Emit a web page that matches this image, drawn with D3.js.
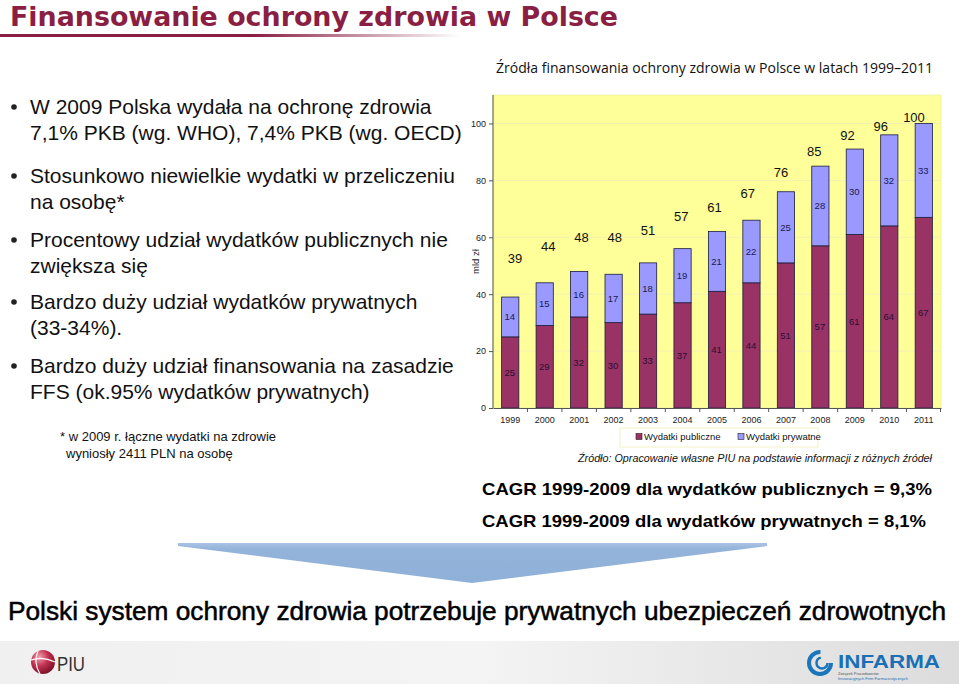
<!DOCTYPE html>
<html><head><meta charset="utf-8">
<script src="https://cdn.jsdelivr.net/npm/d3@7"></script>
<style>body{margin:0;background:#fff}svg{display:block}text{font-family:"Liberation Sans",Arial,sans-serif}</style>
</head><body><svg id="c" width="959" height="684"></svg>
<script>
// ---- data ----
const years = ["1999","2000","2001","2002","2003","2004","2005","2006","2007","2008","2009","2010","2011"];
const publicSpend  = [25,29,32,30,33,37,41,44,51,57,61,64,67];
const privateSpend = [14,15,16,17,18,19,21,22,25,28,30,32,33];
const totals       = [39,44,48,48,51,57,61,67,76,85,92,96,100];
const yTicks = [0,20,40,60,80,100];
const seriesNames = ["Wydatki publiczne","Wydatki prywatne"];
const bullets = [
  ["W 2009 Polska wydała na ochronę zdrowia","7,1% PKB (wg. WHO), 7,4% PKB (wg. OECD)"],
  ["Stosunkowo niewielkie wydatki w przeliczeniu","na osobę*"],
  ["Procentowy udział wydatków publicznych nie","zwiększa się"],
  ["Bardzo duży udział wydatków prywatnych","(33-34%)."],
  ["Bardzo duży udział finansowania na zasadzie","FFS (ok.95% wydatków prywatnych)"]
];
const footnote = ["* w 2009 r. łączne wydatki na zdrowie","wyniosły 2411 PLN na osobę"];
const cagr = ["CAGR 1999-2009 dla wydatków publicznych = 9,3%","CAGR 1999-2009 dla wydatków prywatnych = 8,1%"];

const svg = d3.select("#c");
const defs = svg.append("defs");
const C = {pub:"#993366", priv:"#9999ff", maroon:"#8a1f43"};

// ---- header ----
const lg = defs.append("linearGradient").attr("id","tl").attr("x1",0).attr("x2",1);
lg.append("stop").attr("offset",0).attr("stop-color",C.maroon);
lg.append("stop").attr("offset",0.55).attr("stop-color",C.maroon);
lg.append("stop").attr("offset",1).attr("stop-color",C.maroon).attr("stop-opacity",0);
svg.append("rect").attr("x",0).attr("y",34).attr("width",460).attr("height",3).attr("fill","url(#tl)");
svg.append("text").attr("x",10).attr("y",26).attr("fill",C.maroon)
  .style("font-family","'DejaVu Sans',Verdana,sans-serif").style("font-weight","bold").style("font-size","26px")
  .attr("textLength",608).attr("lengthAdjust","spacingAndGlyphs")
  .text("Finansowanie ochrony zdrowia w Polsce");
svg.append("text").attr("x",496).attr("y",73).attr("fill","#111")
  .style("font-family","'Open Sans',sans-serif").style("font-size","14px")
  .attr("textLength",437).attr("lengthAdjust","spacingAndGlyphs")
  .text("Źródła finansowania ochrony zdrowia w Polsce w latach 1999–2011");

// ---- bullets ----
const bl = [114,183,247,309,373];
bullets.forEach((b,i)=>{
  svg.append("circle").attr("cx",14).attr("cy",bl[i]-7).attr("r",2.8).attr("fill","#222");
  b.forEach((t,j)=>svg.append("text").attr("x",30).attr("y",bl[i]+j*25.5).attr("fill","#111")
    .style("font-size","21px").text(t));
});
footnote.forEach((t,j)=>svg.append("text").attr("x",j?66:60).attr("y",441+j*17).attr("fill","#111")
  .style("font-size","13px").text(t));

// ---- chart ----
const plot = {l:493,r:941,t:95,b:408};
svg.append("rect").attr("x",plot.l).attr("y",plot.t).attr("width",plot.r-plot.l).attr("height",plot.b-plot.t)
  .attr("fill","#ffff99").attr("stroke","#ececa0").attr("stroke-width",0.8);
const x = d3.scaleBand().domain(years).range([plot.l,plot.r]).paddingInner(0.5).paddingOuter(0.25);
const xCat = d3.scaleBand().domain(years).range([plot.l,plot.r]);
const y = d3.scaleLinear().domain([0,110]).range([plot.b,plot.t]);

// gridlines
svg.append("g").selectAll("line").data(yTicks.slice(1)).join("line")
  .attr("x1",plot.l).attr("x2",plot.r).attr("y1",d=>y(d)).attr("y2",d=>y(d))
  .attr("stroke","#f2f2b0").attr("stroke-width",1);

const rows = years.map((yr,i)=>({year:yr,pub:publicSpend[i],priv:privateSpend[i]}));
const stack = d3.stack().keys(["pub","priv"])(rows);
const g = svg.append("g");
stack.forEach(s=>{
  g.append("g").selectAll("rect").data(s).join("rect")
    .attr("x",d=>x(d.data.year)).attr("width",x.bandwidth())
    .attr("y",d=>y(d[1])).attr("height",d=>y(d[0])-y(d[1]))
    .attr("fill",C[s.key]).attr("stroke","#1c1c3c").attr("stroke-width",0.8);
  g.append("g").selectAll("text").data(s).join("text")
    .attr("x",d=>x(d.data.year)+x.bandwidth()/2-0.5).attr("y",d=>y((d[0]+d[1])/2))
    .attr("text-anchor","middle").attr("dy","0.35em")
    .attr("fill", s.key==="pub" ? "#2a1030" : "#1a1a50")
    .style("font-size","9.5px").text(d=>d.data[s.key]);
});

// total labels (placed on their own label scales, as in the original layout)
const xLab = d3.scaleLinear().domain([0,years.length-1]).range([515,914]);
const yLab = d3.scaleLinear().domain([39,100]).range([258,117]);
svg.append("g").selectAll("text").data(totals).join("text")
  .attr("x",(d,i)=>xLab(i)).attr("y",d=>yLab(d)).attr("dy","0.35em")
  .attr("text-anchor","middle").attr("fill","#111").style("font-size","13px").text(d=>d);

// y axis
const ya = svg.append("g").attr("transform",`translate(${plot.l},0)`)
  .call(d3.axisLeft(y).tickValues(yTicks).tickSize(4).tickPadding(3).tickSizeOuter(0));
ya.select(".domain").attr("d",`M0,${plot.b}V${plot.t}`).attr("stroke","#555");
ya.selectAll(".tick line").attr("stroke","#555");
ya.selectAll("text").style("font-size","9px").attr("fill","#222").style("font-family","'Liberation Sans',Arial");
svg.append("text").attr("transform",`translate(479,${(plot.t+plot.b)/2+10}) rotate(-90)`)
  .attr("text-anchor","middle").style("font-size","9.5px").attr("fill","#222").text("mld zł");

// x axis
const xa = svg.append("g").attr("transform",`translate(0,${plot.b})`)
  .call(d3.axisBottom(xCat).tickSize(0).tickPadding(9));
xa.select(".domain").attr("stroke","#555");
xa.selectAll("text").style("font-size","9px").attr("fill","#222").style("font-family","'Liberation Sans',Arial");
svg.append("g").selectAll("line").data(years.slice(1).concat(["end"])).join("line")
  .attr("x1",d=>d==="end"?plot.r-0.5:xCat(d)).attr("x2",d=>d==="end"?plot.r-0.5:xCat(d))
  .attr("y1",plot.b).attr("y2",plot.b+4).attr("stroke","#555");

// legend
svg.append("rect").attr("x",620).attr("y",428).attr("width",198).attr("height",19)
  .attr("fill","#fff").attr("stroke","#f2f2c8");
const lgd = svg.append("g").selectAll("g").data(seriesNames).join("g")
  .attr("transform",(d,i)=>`translate(${i?738:636},437)`);
lgd.append("rect").attr("x",0).attr("y",-3.5).attr("width",6).attr("height",6)
  .attr("fill",(d,i)=>i?C.priv:C.pub).attr("stroke","#222").attr("stroke-width",0.6);
lgd.append("text").attr("x",8).attr("dy","0.35em").style("font-size","9.5px").attr("fill","#111").text(d=>d);

// source
svg.append("text").attr("x",578).attr("y",462).style("font-size","11px").style("font-style","italic")
  .attr("fill","#111").attr("textLength",354).attr("lengthAdjust","spacingAndGlyphs")
  .text("Źródło: Opracowanie własne PIU na podstawie informacji z różnych źródeł");

// CAGR
cagr.forEach((t,i)=>svg.append("text").attr("x",482).attr("y",495+i*32).style("font-size","17px")
  .style("font-weight","bold").attr("fill","#000").attr("textLength",i?444:450).attr("lengthAdjust","spacingAndGlyphs").text(t));

// arrow
const ag = defs.append("linearGradient").attr("id","ag").attr("x1",0).attr("x2",0).attr("y1",0).attr("y2",1);
ag.append("stop").attr("offset",0).attr("stop-color","#a9c2e2");
ag.append("stop").attr("offset",0.15).attr("stop-color","#93b3da");
ag.append("stop").attr("offset",1).attr("stop-color","#8fb0d8");
svg.append("path").attr("d","M178,543 L767,543 L767,546 L472,583 L178,546 Z").attr("fill","url(#ag)");

// conclusion
svg.append("text").attr("x",8).attr("y",620).style("font-size","25px").attr("fill","#000")
  .attr("stroke","#000").attr("stroke-width",0.5)
  .attr("textLength",938).attr("lengthAdjust","spacingAndGlyphs")
  .text("Polski system ochrony zdrowia potrzebuje prywatnych ubezpieczeń zdrowotnych");

// footer
const fg = defs.append("linearGradient").attr("id","fg").attr("x1",0).attr("x2",1);
fg.append("stop").attr("offset",0).attr("stop-color","#f0f0f0");
fg.append("stop").attr("offset",0.5).attr("stop-color","#f4f4f4");
fg.append("stop").attr("offset",1).attr("stop-color","#dcdcdc");
svg.append("rect").attr("x",0).attr("y",641).attr("width",959).attr("height",43).attr("fill","url(#fg)");
const sg = defs.append("radialGradient").attr("id","sg").attr("cx",0.35).attr("cy",0.3).attr("r",0.75);
sg.append("stop").attr("offset",0).attr("stop-color","#f3a0b0");
sg.append("stop").attr("offset",0.5).attr("stop-color","#c0304f");
sg.append("stop").attr("offset",1).attr("stop-color","#7a1028");
svg.append("circle").attr("cx",43).attr("cy",662).attr("r",12).attr("fill","url(#sg)");
svg.append("path").attr("d","M38,651 Q33,662 40,674 M31,660 Q43,656 55,662").attr("fill","none").attr("stroke","#fff").attr("stroke-width",1.2);
svg.append("text").attr("x",57).attr("y",671).style("font-size","20px").attr("fill","#333")
  .attr("textLength",28).attr("lengthAdjust","spacingAndGlyphs").text("PIU");
// INFARMA swirl
svg.append("circle").attr("cx",820).attr("cy",663).attr("r",11).attr("fill","none").attr("stroke","#1b75bb").attr("stroke-width",4)
  .attr("stroke-dasharray","52 17");
svg.append("circle").attr("cx",822).attr("cy",663).attr("r",5.5).attr("fill","none").attr("stroke","#1b75bb").attr("stroke-width",2.5)
  .attr("stroke-dasharray","24 10");
svg.append("text").attr("x",838).attr("y",668).style("font-size","19px").style("font-weight","bold")
  .attr("fill","#1b6fb5").attr("textLength",102).attr("lengthAdjust","spacingAndGlyphs").text("INFARMA");
svg.append("text").attr("x",838).attr("y",675).style("font-size","4px").attr("fill","#555").text("Związek Pracodawców");
svg.append("text").attr("x",838).attr("y",680).style("font-size","4px").attr("fill","#1b6fb5").text("Innowacyjnych Firm Farmaceutycznych");
</script></body></html>
